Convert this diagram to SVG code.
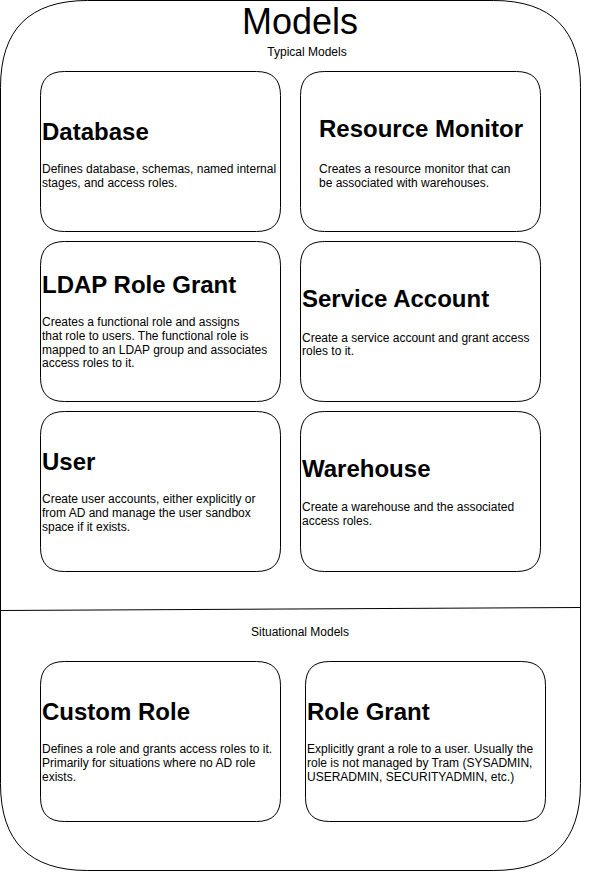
<svg xmlns="http://www.w3.org/2000/svg" xmlns:xlink="http://www.w3.org/1999/xlink" width="601" height="872" viewBox="0 0 601 872">
  <style>
    .box { fill: #ffffff; stroke: #000000; stroke-width: 1; }
    .line { fill: none; stroke: #000000; stroke-width: 1; }
    text { font-family: "Liberation Sans", Arial, Helvetica, sans-serif; fill: #000000; }
    .title { font-size: 36px; text-anchor: middle; }
    .section { font-size: 12px; text-anchor: middle; }
    .h { font-size: 24px; font-weight: bold; }
    .d { font-size: 12px; }
  </style>
  <defs>
    <path id="card" d="M24,0 H216 Q240,0 240,24 V136 Q240,160 216,160 H24 Q0,160 0,136 V24 Q0,0 24,0 Z"/>
  </defs>
  <rect width="601" height="872" fill="#ffffff"/>

  <g id="models-container">
    <path class="box" d="M87.5,0.5 H493.5 Q580.5,0.5 580.5,87.5 V783.5 Q580.5,870.5 493.5,870.5 H87.5 Q0.5,870.5 0.5,783.5 V87.5 Q0.5,0.5 87.5,0.5 Z"/>
    <text class="title" x="300" y="34">Models</text>
    <text class="section" x="307" y="56">Typical Models</text>
    <line class="line" x1="0.5" y1="610.5" x2="580.5" y2="607.5"/>
    <text class="section" x="300" y="636">Situational Models</text>
  </g>

  <g id="connectors"></g>

  <g id="node-database">
    <use xlink:href="#card" href="#card" class="box" x="40.5" y="71.5"/>
    <text class="h" x="42" y="139.5">Database</text>
    <text class="d" x="42" y="173">Defines database, schemas, named internal</text>
    <text class="d" x="42" y="186.8">stages, and access roles.</text>
  </g>

  <g id="node-resource-monitor">
    <use xlink:href="#card" href="#card" class="box" x="300.5" y="71.5"/>
    <text class="h" x="319" y="137">Resource Monitor</text>
    <text class="d" x="319" y="173">Creates a resource monitor that can</text>
    <text class="d" x="319" y="186.8">be associated with warehouses.</text>
  </g>

  <g id="node-ldap-role-grant">
    <use xlink:href="#card" href="#card" class="box" x="40.5" y="241.5"/>
    <text class="h" x="42" y="293">LDAP Role Grant</text>
    <text class="d" x="42" y="326">Creates a functional role and assigns</text>
    <text class="d" x="42" y="339.8">that role to users. The functional role is</text>
    <text class="d" x="42" y="353.6">mapped to an LDAP group and associates</text>
    <text class="d" x="42" y="367.4">access roles to it.</text>
  </g>

  <g id="node-service-account">
    <use xlink:href="#card" href="#card" class="box" x="300.5" y="241.5"/>
    <text class="h" x="302" y="306.5">Service Account</text>
    <text class="d" x="302" y="341.5">Create a service account and grant access</text>
    <text class="d" x="302" y="355.3">roles to it.</text>
  </g>

  <g id="node-user">
    <use xlink:href="#card" href="#card" class="box" x="40.5" y="411.5"/>
    <text class="h" x="42" y="469.5">User</text>
    <text class="d" x="42" y="503">Create user accounts, either explicitly or</text>
    <text class="d" x="42" y="516.8">from AD and manage the user sandbox</text>
    <text class="d" x="42" y="530.6">space if it exists.</text>
  </g>

  <g id="node-warehouse">
    <use xlink:href="#card" href="#card" class="box" x="300.5" y="411.5"/>
    <text class="h" x="302" y="476.5">Warehouse</text>
    <text class="d" x="302" y="511">Create a warehouse and the associated</text>
    <text class="d" x="302" y="524.8">access roles.</text>
  </g>

  <g id="node-custom-role">
    <use xlink:href="#card" href="#card" class="box" x="40.5" y="661.5"/>
    <text class="h" x="42" y="719.5">Custom Role</text>
    <text class="d" x="42" y="753">Defines a role and grants access roles to it.</text>
    <text class="d" x="42" y="766.8">Primarily for situations where no AD role</text>
    <text class="d" x="42" y="780.6">exists.</text>
  </g>

  <g id="node-role-grant">
    <use xlink:href="#card" href="#card" class="box" x="305.5" y="661.5"/>
    <text class="h" x="307" y="719.5">Role Grant</text>
    <text class="d" x="307" y="753">Explicitly grant a role to a user. Usually the</text>
    <text class="d" x="307" y="766.8">role is not managed by Tram (SYSADMIN,</text>
    <text class="d" x="307" y="780.6">USERADMIN, SECURITYADMIN, etc.)</text>
  </g>
</svg>
